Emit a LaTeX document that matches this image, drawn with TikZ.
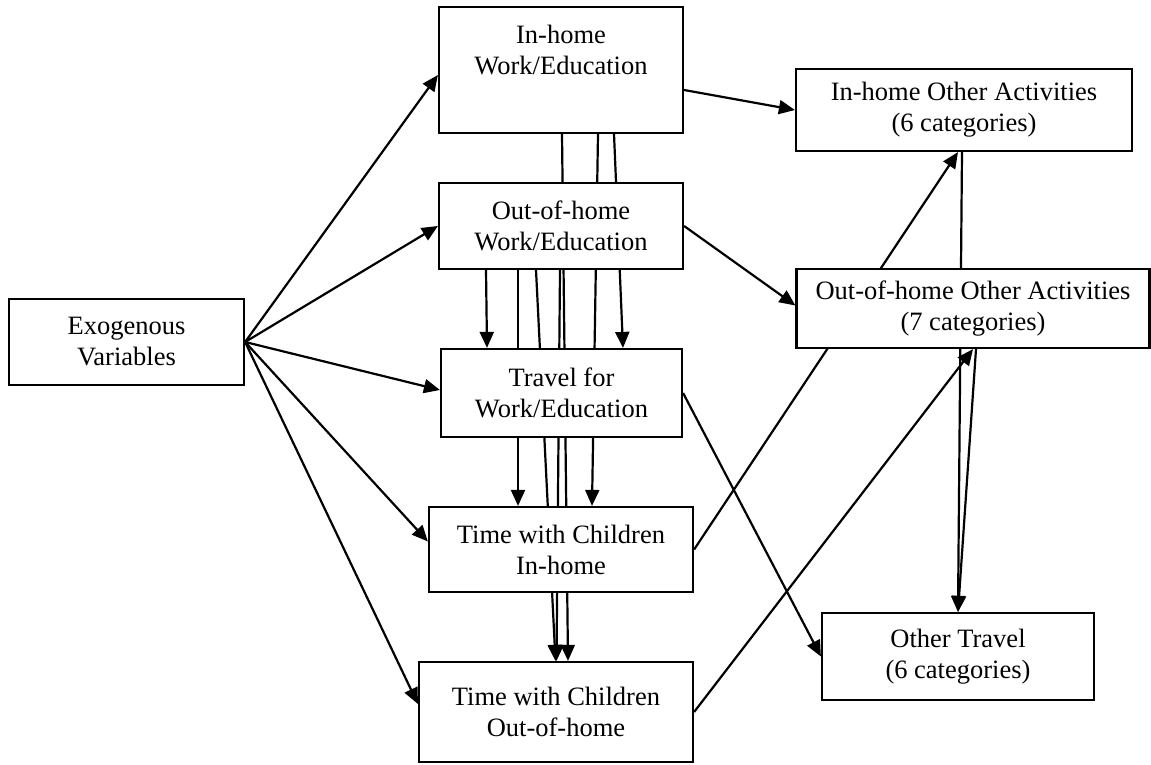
\documentclass[tikz,border=0pt]{standalone}
\usepackage{fontspec}
\setmainfont{Liberation Serif}
\usetikzlibrary{arrows.meta,backgrounds}
\begin{document}
\begin{tikzpicture}[x=1pt,y=-1pt,
  lbl/.style={align=center,inner sep=0pt,font=\fontsize{26.5pt}{31pt}\selectfont},
  box/.style={lbl,draw,line width=2.2pt,fill=white,rectangle},
  ln/.style={line width=2.2pt},
  arr/.style={ln,-{Triangle[length=16pt,width=14pt]}}]
\useasboundingbox (0,0) rectangle (1151,765);
% boxes
\node[box,minimum width=235pt,minimum height=86pt] (EX) at (126.5,342) {Exogenous\\Variables};
\node[box,minimum width=244pt,minimum height=126pt] (IW) at (561,70) {};
\node[lbl] (IWt) at (561,50) {In-home\\Work/Education};
\node[box,minimum width=244pt,minimum height=86pt] (OW) at (561,226) {Out-of-home\\Work/Education};
\node[box,minimum width=241pt,minimum height=88pt] (TW) at (561.5,393) {Travel for\\Work/Education};
\node[box,minimum width=264pt,minimum height=85pt] (CI) at (561,549.5) {Time with Children\\In-home};
\node[box,minimum width=274pt,minimum height=100pt] (CO) at (556,712) {Time with Children\\Out-of-home};
\node[box,minimum width=336pt,minimum height=82pt] (IO) at (964,110) {In-home Other Activities\\(6 categories)};
\node[box,minimum width=353pt,minimum height=79pt] (OO) at (973,308.5) {Out-of-home Other Activities\\(7 categories)};
\node[box,minimum width=272pt,minimum height=87pt] (OT) at (958,656.5) {Other Travel\\(6 categories)};
\begin{pgfonlayer}{background}
% exogenous
\draw[arr] (EX.east) -- ([yshift=-5pt]IW.west);
\draw[arr] (EX.east) -- (OW.west);
\draw[arr] (EX.east) -- ([yshift=3pt]TW.west);
\draw[arr] (EX.east) -- ([yshift=8pt]CI.west);
\draw[arr] (EX.east) -- ([yshift=8pt]CO.west);
% vertical links
\draw[arr] ([xshift=53pt]IW.south) -- ([xshift=61.5pt]TW.north);
\draw[arr] ([xshift=37pt]IW.south) -- ([xshift=31pt]CI.north);
\draw[arr] ([xshift=1pt]IW.south) -- ([xshift=12pt]CO.north);
\draw[arr] ([xshift=-75pt]OW.south) -- ([xshift=-74.5pt]TW.north);
\draw[arr] ([xshift=-43pt]OW.south) -- ([xshift=-43pt]CI.north);
\draw[arr] ([xshift=-25pt]OW.south) -- ([xshift=-0.5pt]CO.north);
\draw[arr] ([xshift=-1pt]OW.south) -- ([xshift=0.5pt]CO.north);
% right side
\draw[arr] ([yshift=-20pt]IW.east) -- (IO.west);
\draw[arr] (OW.east) -- ([yshift=3pt]OO.west);
\draw[arr] (TW.east) -- (OT.west);
\draw[arr] (CI.east) -- ([xshift=-6pt]IO.south);
\draw[arr] ([xshift=-2pt]IO.south) -- (OT.north);
\draw[arr] (CO.east) -- (OO.south);
\draw[arr] ([xshift=3pt]OO.south) -- (OT.north);
\end{pgfonlayer}
\end{tikzpicture}
\end{document}
